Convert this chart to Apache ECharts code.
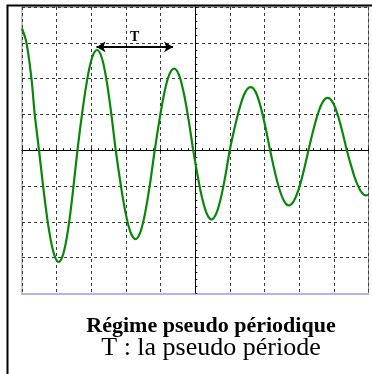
<!DOCTYPE html>
<html>
<head>
<meta charset="utf-8">
<script src="https://cdn.jsdelivr.net/npm/echarts@6/dist/echarts.min.js"></script>
<style>
  html, body { margin: 0; padding: 0; background: #fff; }
  #chart { width: 372px; height: 374px; }
</style>
</head>
<body>
<div id="chart"></div>
<script>
// Oscilloscope trace, in screen divisions (x: -5..5, y: -4..4)
const timeDiv = [
  -5.000, -4.873, -4.729, -4.633, -4.509,
  -4.367, -4.224, -4.082, -3.940, -3.805, -3.670, -3.535, -3.400,
  -3.259, -3.117, -2.976, -2.835, -2.700, -2.565, -2.430, -2.295,
  -2.152, -2.010, -1.867, -1.725, -1.586, -1.447, -1.308, -1.169,
  -1.029, -0.890, -0.750, -0.610, -0.472, -0.334, -0.196, -0.058,
  0.074, 0.205, 0.337, 0.468, 0.600, 0.732, 0.864, 0.996,
  1.147, 1.298, 1.449, 1.600, 1.740, 1.880, 2.020, 2.160,
  2.295, 2.430, 2.565, 2.700, 2.842, 2.984, 3.126, 3.268,
  3.406, 3.544, 3.682, 3.820, 3.958, 4.097, 4.235, 4.374,
  4.513, 4.652, 4.791, 4.930, 5.000
];
const voltDiv = [
  3.40, 3.01, 2.02, 1.01, 0.00,
  -1.19, -2.21, -2.88, -3.12, -2.88, -2.21, -1.19, 0.00,
  1.07, 1.98, 2.59, 2.80, 2.59, 1.98, 1.07, 0.00,
  -0.95, -1.75, -2.29, -2.48, -2.29, -1.75, -0.95, 0.00,
  0.87, 1.61, 2.11, 2.28, 2.11, 1.61, 0.87, 0.00,
  -0.74, -1.36, -1.78, -1.93, -1.78, -1.36, -0.74, 0.00,
  0.67, 1.24, 1.63, 1.76, 1.63, 1.24, 0.67, 0.00,
  -0.59, -1.09, -1.42, -1.54, -1.42, -1.09, -0.59, 0.00,
  0.56, 1.03, 1.35, 1.46, 1.35, 1.03, 0.56, 0.00,
  -0.48, -0.89, -1.16, -1.26, -1.25
];
// Pseudo-period marker: from one maximum to the next
const periodStart = -2.85;
const periodEnd = -0.64;
const periodLevel = 2.885;
const periodLabel = 'T';

const captionTitle = 'Régime pseudo périodique';
const captionText = 'T : la pseudo période';

const serif = '"Liberation Serif", "DejaVu Serif", serif';
const gridDash = { color: '#3a3a3a', width: 1, type: [3, 3] };

const chart = echarts.init(document.getElementById('chart'), null, { renderer: 'canvas' });
chart.setOption({
  animation: false,
  backgroundColor: '#ffffff',
  grid: {
    left: 22, top: 7, width: 346.5, height: 286.5,
    show: true, borderColor: '#8c8c8c', borderWidth: 1, backgroundColor: 'transparent'
  },
  xAxis: [{
    type: 'value', min: -5, max: 5, interval: 1,
    axisLine: { onZero: true, lineStyle: { color: '#000', width: 1 } },
    axisTick: { show: true, inside: true, length: 2, lineStyle: { color: '#000' } },
    minorTick: { show: true, splitNumber: 5, length: 2, lineStyle: { color: '#000' } },
    axisLabel: { show: false },
    splitLine: { show: true, lineStyle: gridDash }
  }, {
    type: 'value', min: -5, max: 5, position: 'bottom',
    axisLine: { onZero: false, lineStyle: { color: '#b4b4e6', width: 2 } },
    axisTick: { show: false }, axisLabel: { show: false }, splitLine: { show: false }
  }],
  yAxis: {
    type: 'value', min: -4, max: 4, interval: 1,
    axisLine: { onZero: true, lineStyle: { color: '#000', width: 1 } },
    axisTick: { show: true, inside: true, length: 2, lineStyle: { color: '#000' } },
    minorTick: { show: true, splitNumber: 5, length: 2, lineStyle: { color: '#000' } },
    axisLabel: { show: false },
    splitLine: { show: true, lineStyle: gridDash }
  },
  series: [{
    type: 'line',
    data: timeDiv.map((t, i) => [t, voltDiv[i]]),
    smooth: 0.35,
    symbol: 'none',
    lineStyle: { color: '#0a870a', width: 2.2 },
    markLine: {
      silent: true,
      symbol: ['arrow', 'arrow'],
      symbolSize: [8, 9],
      lineStyle: { color: '#000', width: 2, type: 'solid' },
      label: {
        show: true, position: 'middle', formatter: periodLabel, distance: 3,
        fontFamily: serif, fontWeight: 'bold', fontSize: 14, color: '#000'
      },
      data: [[{ coord: [periodStart, periodLevel] }, { coord: [periodEnd, periodLevel] }]]
    }
  }],
  graphic: [
    {
      type: 'rect', silent: true,
      shape: { x: 7.5, y: 5.5, width: 420, height: 400 },
      style: { fill: 'none', stroke: '#000', lineWidth: 2 }
    },
    {
      type: 'text', x: 211, y: 326, silent: true,
      style: {
        text: captionTitle, fontFamily: serif, fontWeight: 'bold', fontSize: 22,
        fill: '#000', textAlign: 'center', textVerticalAlign: 'middle'
      }
    },
    {
      type: 'text', x: 211, y: 348, silent: true,
      style: {
        text: captionText, fontFamily: serif, fontSize: 26,
        fill: '#000', textAlign: 'center', textVerticalAlign: 'middle'
      }
    }
  ]
});
</script>
</body>
</html>
